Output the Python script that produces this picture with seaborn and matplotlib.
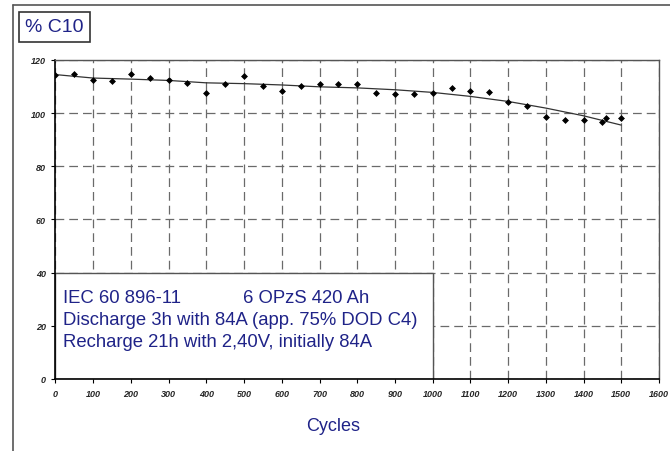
import numpy as np
import pandas as pd
import matplotlib
matplotlib.use("Agg")
import matplotlib.pyplot as plt
import seaborn as sns
from matplotlib.patches import Rectangle
from matplotlib.lines import Line2D

# Measured points (cycles, % C10)
cycles = [0, 50, 100, 150, 200, 250, 300, 350, 400, 450, 500, 550, 600, 650,
          700, 750, 800, 850, 900, 950, 1000, 1050, 1100, 1150, 1200, 1250,
          1300, 1350, 1400, 1450, 1460, 1500]
capacity = [114.5, 114.7, 112.6, 112.1, 114.6, 113.2, 112.3, 111.2, 107.5, 110.8,
            114.1, 110.3, 108.2, 110.3, 110.8, 110.8, 110.8, 107.4, 107.2, 107.3,
            107.5, 109.5, 108.3, 107.9, 104.3, 102.6, 98.7, 97.5, 97.5, 96.5,
            98.1, 98.1]

# Trend line
trend_x = [0, 100, 200, 300, 400, 500, 600, 700, 800, 900, 1000, 1100, 1200,
           1300, 1400, 1500]
trend_y = [114.5, 113.2, 112.8, 112.3, 111.4, 111.1, 110.6, 109.9, 109.5, 108.8,
           107.8, 106.3, 104.4, 101.9, 99.0, 95.5]

x_ticks = list(range(0, 1601, 100))
y_ticks = [0, 20, 40, 60, 80, 100, 120]

info_lines = ["Discharge 3h with 84A (app. 75% DOD C4)",
              "Recharge 21h with 2,40V, initially 84A"]

navy = "#1f2388"

sns.set_style("white")
plt.rcParams['font.family'] = ['Liberation Sans', 'DejaVu Sans']

fig = plt.figure(figsize=(6.7, 4.52), dpi=100)
ax = fig.add_axes([0.0828, 0.1593, 0.9008, 0.7058])

pts = pd.DataFrame({"cycles": cycles, "capacity": capacity})
trend = pd.DataFrame({"cycles": trend_x, "capacity": trend_y})

sns.lineplot(data=trend, x="cycles", y="capacity", ax=ax, color="#333333",
             linewidth=0.9, zorder=3)
sns.scatterplot(data=pts, x="cycles", y="capacity", ax=ax, color="black",
                marker="D", s=9, edgecolor="black", linewidth=0.5, zorder=4)

ax.set_xlim(0, 1600)
ax.set_ylim(0, 120)
ax.set_xticks(x_ticks)
ax.set_yticks(y_ticks)
ax.set_xticklabels([str(t) for t in x_ticks], fontsize=6.5, fontweight="bold",
                   fontstyle="italic")
ax.set_yticklabels([str(t) for t in y_ticks], fontsize=6.5, fontweight="bold",
                   fontstyle="italic")
ax.tick_params(axis="both", direction="out", length=3, width=0.8, color="black",
               bottom=True, left=True, pad=4)

ax.set_axisbelow(True)
ax.grid(True, color="#6a6a6a", linestyle=(0, (7, 4)), linewidth=0.9)

for side in ["left", "bottom"]:
    ax.spines[side].set_color("black")
    ax.spines[side].set_linewidth(1.2)
for side in ["top", "right"]:
    ax.spines[side].set_color("#555555")
    ax.spines[side].set_linewidth(1.0)

ax.set_xlabel("Cycles", fontsize=13, color=navy)
ax.xaxis.set_label_coords(0.46, -0.12)
ax.set_ylabel("")

# Info box covering the lower left of the grid
ax.add_patch(Rectangle((0, 0), 1000, 40, facecolor="white", edgecolor="#555555",
                       linewidth=1.0, zorder=2))
fs = 13.3
ax.text(20, 29, "IEC 60 896-11", fontsize=fs, color=navy, va="baseline", zorder=5)
ax.text(497, 29, "6 OPzS 420 Ah", fontsize=fs, color=navy, va="baseline", zorder=5)
ax.text(20, 20.7, info_lines[0], fontsize=fs, color=navy, va="baseline", zorder=5)
ax.text(20, 12.4, info_lines[1], fontsize=fs, color=navy, va="baseline", zorder=5)

# "% C10" label box
fig.text(54.5 / 670, 1 - 28 / 452, "% C10", fontsize=14, color=navy,
         ha="center", va="center",
         bbox=dict(boxstyle="square,pad=0.32", facecolor="white",
                   edgecolor="#333333", linewidth=1.2))

# Outer frame (top and left edges)
fig.add_artist(Line2D([13 / 670, 1.0], [1 - 6 / 452, 1 - 6 / 452],
                      color="#555555", linewidth=1.2, transform=fig.transFigure))
fig.add_artist(Line2D([13 / 670, 13 / 670], [0, 1 - 6 / 452],
                      color="#555555", linewidth=1.2, transform=fig.transFigure))

fig.savefig("out.png", dpi=100)
